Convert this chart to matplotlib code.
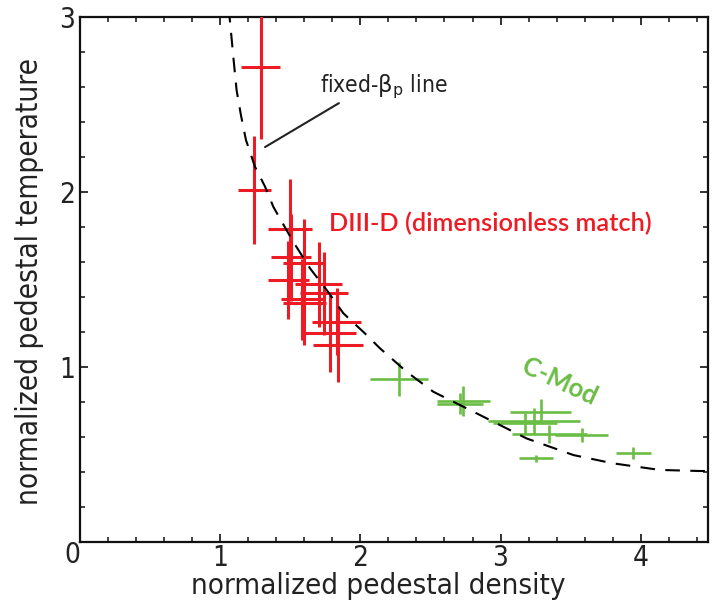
import matplotlib
matplotlib.use("Agg")
import matplotlib.pyplot as plt
from matplotlib import font_manager as fm
from matplotlib.ticker import MultipleLocator
from matplotlib.font_manager import FontProperties

# ---------------- data ----------------
diiid_n = [1.291, 1.244, 1.498, 1.505, 1.598, 1.486, 1.702, 1.740, 1.585, 1.600, 1.830, 1.787, 1.840]
diiid_T = [2.715, 2.010, 1.787, 1.625, 1.591, 1.494, 1.471, 1.419, 1.385, 1.362, 1.257, 1.191, 1.124]
diiid_n_err = [0.139, 0.120, 0.155, 0.140, 0.149, 0.146, 0.170, 0.170, 0.150, 0.155, 0.176, 0.180, 0.176]
diiid_T_err = [0.415, 0.310, 0.284, 0.250, 0.251, 0.224, 0.243, 0.238, 0.230, 0.240, 0.190, 0.220, 0.211]

cmod_n = [2.275, 2.734, 2.710, 3.286, 3.241, 3.174, 3.348, 3.578, 3.947, 3.252]
cmod_T = [0.928, 0.804, 0.789, 0.743, 0.690, 0.676, 0.614, 0.610, 0.505, 0.476]
cmod_n_err = [0.207, 0.190, 0.166, 0.220, 0.327, 0.226, 0.267, 0.188, 0.124, 0.120]
cmod_T_err = [0.097, 0.088, 0.059, 0.070, 0.076, 0.060, 0.052, 0.038, 0.034, 0.022]

# fixed-beta_p line, points
curve_n = [1.060, 1.072, 1.094, 1.117, 1.148, 1.184, 1.248, 1.320, 1.379, 1.427, 1.521,
           1.641, 1.760, 1.879, 2.033, 2.140, 2.330, 2.520, 2.853, 3.186, 3.520,
           3.800, 4.137, 4.420, 4.480]
curve_T = [3.050, 2.958, 2.768, 2.581, 2.438, 2.295, 2.143, 2.029, 1.914, 1.846, 1.714,
           1.562, 1.438, 1.305, 1.190, 1.105, 0.971, 0.857, 0.724, 0.590, 0.495,
           0.448, 0.410, 0.404, 0.404]

x_ticks = [0, 1, 2, 3, 4]
y_ticks = [0, 1, 2, 3]
x_tick_labels = ["", "1", "2", "3", "4"]
y_tick_labels = ["", "1", "2", "3"]

xlabel = "normalized pedestal density"
ylabel = "normalized pedestal temperature"
label_diiid = "DIII-D (dimensionless match)"
label_cmod = "C-Mod"
label_line = r"fixed-$\mathrm{\beta}_{\mathrm{p}}$ line"

RED = "#ED1C24"
GREEN = "#6ABD45"

# ---------------- fonts ----------------
entries = [(f.name, str(f.stretch)) for f in fm.fontManager.ttflist]
names = {n for n, s in entries}
if "DejaVu Sans Condensed" in names:
    cond = FontProperties(family="DejaVu Sans Condensed")
elif any(n == "DejaVu Sans" and "condensed" in s for n, s in entries):
    cond = FontProperties(family="DejaVu Sans", stretch="condensed")
elif "Liberation Sans Narrow" in names:
    cond = FontProperties(family="Liberation Sans Narrow")
else:
    cond = FontProperties(family="DejaVu Sans")
bold_family = "Lato" if "Lato" in names else "DejaVu Sans"

W, H = 712, 602
fig = plt.figure(figsize=(W / 100, H / 100), dpi=100)
L, R, T, B = 80, 708, 16.7, 541.7
ax = fig.add_axes([L / W, 1 - B / H, (R - L) / W, (B - T) / H])
ax.set_xlim(0, 4.48)
ax.set_ylim(0, 3)

ax.errorbar(diiid_n, diiid_T, xerr=diiid_n_err, yerr=diiid_T_err, fmt="none",
            ecolor=RED, elinewidth=2.2, capsize=0, zorder=3)
ax.errorbar(cmod_n, cmod_T, xerr=cmod_n_err, yerr=cmod_T_err, fmt="none",
            ecolor=GREEN, elinewidth=1.9, capsize=0, zorder=3)
ax.plot(curve_n, curve_T, color="black", lw=1.5, dashes=(7, 5), zorder=5)

# ticks
ax.set_xticks(x_ticks)
ax.set_yticks(y_ticks)
ax.set_xticklabels(x_tick_labels)
ax.set_yticklabels(y_tick_labels)
ax.xaxis.set_minor_locator(MultipleLocator(0.2))
ax.yaxis.set_minor_locator(MultipleLocator(0.2))
ax.tick_params(which="both", direction="in", top=True, right=True, color="#111111")
ax.tick_params(which="major", length=6, width=1.2)
ax.tick_params(which="minor", length=3.5, width=1.1)
ax.tick_params(axis="x", pad=2.0)
ax.tick_params(axis="y", pad=3.5)
for s in ax.spines.values():
    s.set_linewidth(1.6)
    s.set_color("#111111")

tick_fp = cond.copy()
tick_fp.set_size(20)
for lb in ax.get_xticklabels() + ax.get_yticklabels():
    lb.set_fontproperties(tick_fp)
    lb.set_color("#222222")
fig.text(72 / W, 1 - 555 / H, "0", fontproperties=tick_fp, color="#222222",
         ha="center", va="center")

lab_fp = cond.copy()
lab_fp.set_size(20)
tx = fig.text(378 / W, 1 - 600 / H, xlabel, fontproperties=lab_fp, color="#222222",
              ha="center", va="bottom")
ty = fig.text(30 / W, 1 - 281.5 / H, ylabel, fontproperties=lab_fp, color="#222222",
              ha="center", va="center", rotation=90)

t_d = ax.text(1.776, 1.777, label_diiid, color=RED, family=bold_family,
              fontweight="semibold", fontsize=16, ha="left", va="baseline")
t_c = ax.text(3.417, 0.915, label_cmod, color=GREEN, family=bold_family,
              fontweight="bold", fontsize=15, ha="center", va="center",
              rotation_mode="anchor")
line_fp = cond.copy()
line_fp.set_size(15)
t_l = ax.text(1.712, 2.571, label_line, fontproperties=line_fp, color="#222222",
              ha="left", va="baseline")
ax.annotate("", xy=(1.32, 2.255), xytext=(1.847, 2.506),
            arrowprops=dict(arrowstyle="-", lw=1.5, color="#222222",
                            shrinkA=0, shrinkB=0))

# fit text widths to the reference
fig.canvas.draw()
rend = fig.canvas.get_renderer()

def fit(t, target, horizontal=True):
    bb = t.get_window_extent(rend)
    cur = bb.width if horizontal else bb.height
    t.set_fontsize(t.get_fontsize() * target / cur)

fit(tx, 375)
fit(ty, 447, horizontal=False)
fit(t_d, 324)
fit(t_c, 80)
fit(t_l, 128)
t_c.set_rotation(-25)

fig.savefig("out.png", dpi=100)
